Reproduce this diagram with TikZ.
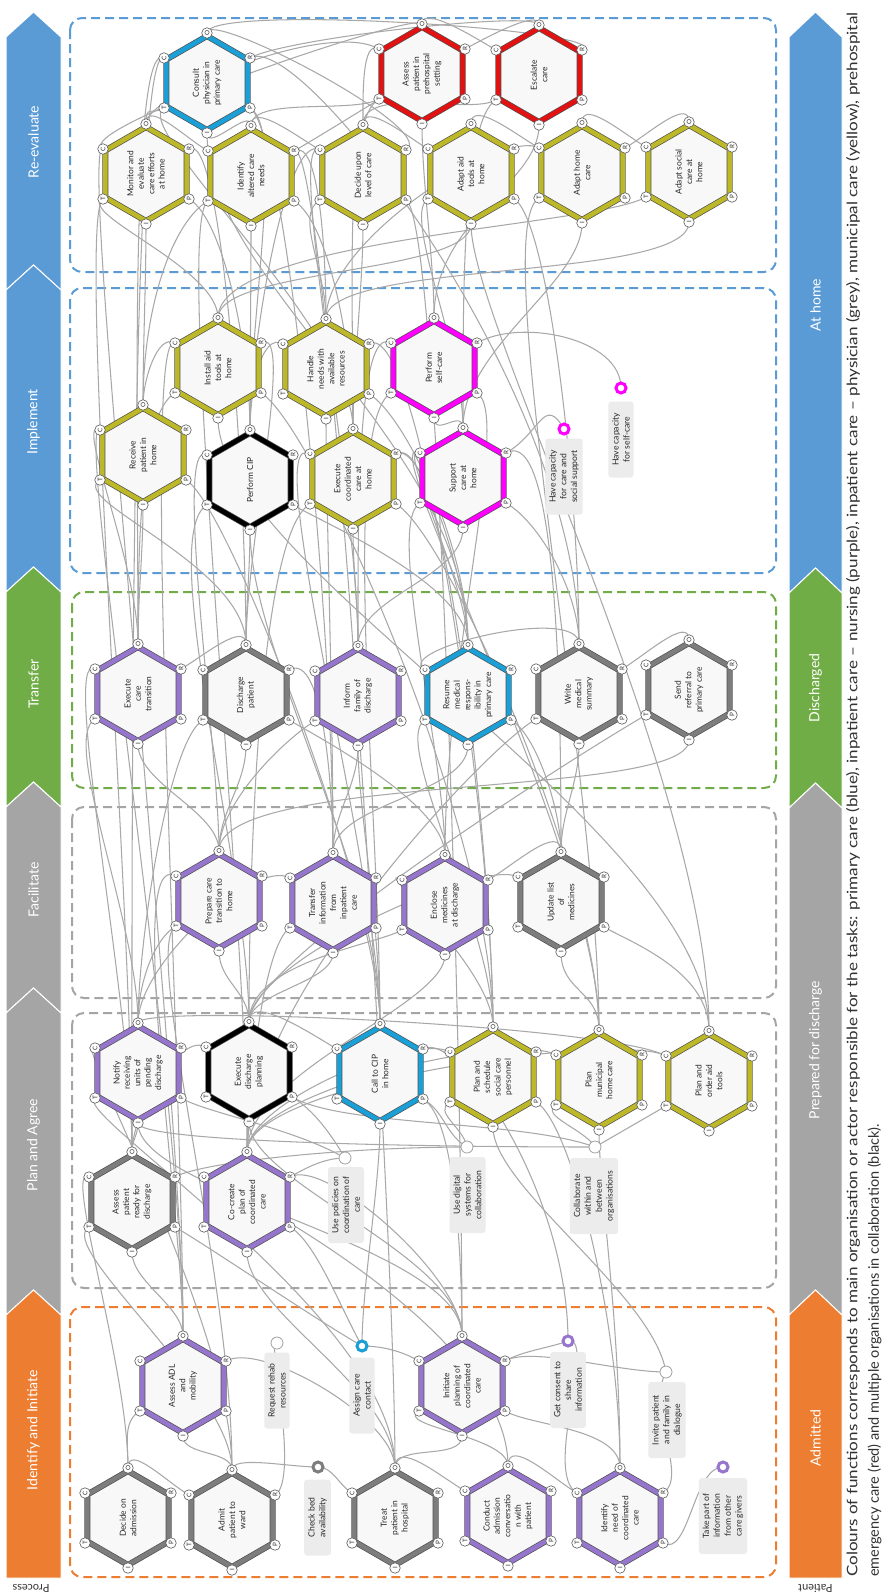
\documentclass[tikz,border=0pt]{standalone}
\usepackage{graphicx}
\usepackage{fontspec}
\setmainfont{Lato}
\definecolor{hblue}{RGB}{26,160,214}
\definecolor{hpur}{RGB}{150,118,205}
\definecolor{hgry}{RGB}{125,125,125}
\definecolor{hyel}{RGB}{188,184,40}
\definecolor{hred}{RGB}{226,18,18}
\definecolor{hmag}{RGB}{255,0,255}
\definecolor{hblk}{RGB}{0,0,0}
\definecolor{hexedge}{RGB}{80,80,80}
\definecolor{hexbg}{RGB}{248,248,248}
\definecolor{bblue}{RGB}{91,155,213}
\definecolor{bgreen}{RGB}{112,173,71}
\definecolor{bgrey}{RGB}{165,165,165}
\definecolor{borange}{RGB}{237,125,49}
\definecolor{conncol}{RGB}{168,168,168}
\definecolor{txtdark}{RGB}{40,40,40}
\definecolor{labbg}{RGB}{236,236,236}
\definecolor{aspedge}{RGB}{90,90,90}
\definecolor{opengrey}{RGB}{160,160,160}
\definecolor{capcol}{RGB}{50,50,50}
\pgfdeclarelayer{back}
\pgfdeclarelayer{lines}
\pgfsetlayers{back,lines,main}
\tikzset{
  conn/.style={draw=conncol, line width=1.05pt},
  fntext/.style={rotate=90, align=center, inner sep=0pt, font=\fontsize{8.4}{10.4}\selectfont, text=txtdark},
  asp/.style={circle, draw=aspedge, fill=white, line width=0.6pt, inner sep=0pt, minimum size=10.5pt, font=\fontsize{6.3}{7}\selectfont, rotate=90, text=txtdark},
  labbox/.style={rotate=90, fill=labbg, rounded corners=3pt, align=center, font=\fontsize{8.6}{10.8}\selectfont, text=txtdark, inner xsep=3pt, inner ysep=4pt, minimum width=76pt},
  ringc/.style={circle, draw=#1, line width=3pt, fill=white, minimum size=10pt, inner sep=0pt},
  openc/.style={circle, draw=opengrey, line width=0.8pt, fill=white, minimum size=12pt, inner sep=0pt},
  phasebox/.style={draw=#1, line width=2pt, dash pattern=on 9pt off 5pt, rounded corners=12pt},
  bandtxt/.style={rotate=90, text=white, font=\fontsize{14}{16}\selectfont, inner sep=0pt},
}
\newcommand\fnhex[5]{%
  \draw[line width=6pt, draw=hexedge, fill=hexbg, line join=miter]
    ({#2},{#3-47}) -- ({#2+40.7},{#3-23.5}) -- ({#2+40.7},{#3+23.5}) -- ({#2},{#3+47}) -- ({#2-40.7},{#3+23.5}) -- ({#2-40.7},{#3-23.5}) -- cycle;
  \draw[line width=4.6pt, draw=#4, line join=miter]
    ({#2},{#3-47}) -- ({#2+40.7},{#3-23.5}) -- ({#2+40.7},{#3+23.5}) -- ({#2},{#3+47}) -- ({#2-40.7},{#3+23.5}) -- ({#2-40.7},{#3-23.5}) -- cycle;
  \node[fntext] (#1) at (#2,#3) {#5};
  \node[asp] (#1-O) at ({#2},{#3-50}) {O};
  \node[asp] (#1-R) at ({#2+43},{#3-25}) {R};
  \node[asp] (#1-P) at ({#2+43},{#3+25}) {P};
  \node[asp] (#1-I) at ({#2},{#3+50}) {I};
  \node[asp] (#1-T) at ({#2-43},{#3+25}) {T};
  \node[asp] (#1-C) at ({#2-43},{#3-25}) {C};
}
\newcommand\labnode[7]{%
  \node[labbox] (#1) at (#2,#3) {#7};
  \node[#6] (#1-c) at (#4,#5) {};
}
\newcommand\bandshape[7]{%
  \fill[#7, draw=white, line width=1pt] (#1,#4) -- ({(#1+#2)/2},#3) -- (#2,#4) -- (#2,#5) -- ({(#1+#2)/2},#6) -- (#1,#5) -- cycle;}
\def\angO{90}\def\angR{30}\def\angP{-30}\def\angI{-90}\def\angT{210}\def\angC{150}
\newcommand\cnx[6]{\edef\cnout{\csname ang#2\endcsname}\edef\cnin{\csname ang#4\endcsname}%
  \draw[conn] (#1-#2.center) .. controls +(\cnout:#5pt) and +(\cnin:#6pt) .. (#3-#4.center);}
\newcommand\clx[6]{\edef\cnin{\csname ang#4\endcsname}%
  \draw[conn] (#1-c.center) .. controls +(#2:#5pt) and +(\cnin:#6pt) .. (#3-#4.center);}
\begin{document}
\begin{tikzpicture}[x=1pt,y=-1pt]
\useasboundingbox (0,0) rectangle (887,1596);
\begin{pgfonlayer}{back}
\fill[white] (0,0) rectangle (887,1596);
% process bands
\bandshape{6}{61}{12}{37}{290}{265}{bblue}
\bandshape{6}{61}{265}{290}{592}{567}{bblue}
\bandshape{6}{61}{567}{592}{807}{782}{bgreen}
\bandshape{6}{61}{782}{807}{1013}{988}{bgrey}
\bandshape{6}{61}{988}{1013}{1315}{1290}{bgrey}
\bandshape{6}{61}{1290}{1315}{1578}{1578}{borange}
% patient bands
\bandshape{789}{842}{12}{37}{593}{568}{bblue}
\bandshape{789}{842}{568}{593}{808}{783}{bgreen}
\bandshape{789}{842}{783}{808}{1315}{1290}{bgrey}
\bandshape{789}{842}{1290}{1315}{1578}{1578}{borange}
% phase boxes
\draw[phasebox=bblue] (70,18) rectangle (776,272);
\draw[phasebox=bblue] (70,288) rectangle (776,573);
\draw[phasebox=bgreen] (72,592) rectangle (776,788);
\draw[phasebox=bgrey] (72,807) rectangle (776,998);
\draw[phasebox=bgrey] (72,1013) rectangle (776,1288);
\draw[phasebox=borange] (70,1307) rectangle (776,1577);
\end{pgfonlayer}
% band texts
\node[bandtxt] (b1) at (33.5,142) {Re-evaluate};
\node[bandtxt] (b2) at (33.5,422) {Implement};
\node[bandtxt] (b3) at (33.5,684) {Transfer};
\node[bandtxt] (b4) at (33.5,890) {Facilitate};
\node[bandtxt] (b5) at (33.5,1145) {Plan and Agree};
\node[bandtxt] (b6) at (33.5,1430) {Identify and Initiate};
\node[bandtxt] (p1) at (815.5,305) {At home};
\node[bandtxt] (p2) at (815.5,688) {Discharged};
\node[bandtxt] (p3) at (815.5,1050) {Prepared for discharge};
\node[bandtxt] (p4) at (815.5,1438) {Admitted};
\node[rotate=180, font=\fontsize{11}{12}\selectfont, text=capcol, inner sep=0pt] (proc) at (31,1588) {Process};
\node[rotate=180, font=\fontsize{11}{12}\selectfont, text=capcol, inner sep=0pt] (pat) at (815.5,1588) {Patient};
\node[rotate=90, anchor=north west, inner sep=0pt, align=left, font=\fontsize{14.5}{21.5}\selectfont, text=capcol] (cap) at (846,1577)
  {\resizebox{1564pt}{\height}{Colours of functions corresponds to main organisation or actor responsible for the tasks: primary care (blue), inpatient care – nursing (purple), inpatient care – physician (grey), municipal care (yellow), prehospital}\\emergency care (red) and multiple organisations in collaboration (black).};
% functions
\fnhex{cons}{207}{83}{hblue}{Consult\\physician in\\primary care}
\fnhex{mon}{146}{174}{hyel}{Monitor and\\evaluate\\care efforts\\at home}
\fnhex{iac}{251}{176}{hyel}{Identify\\altered care\\needs}
\fnhex{dul}{363}{175}{hyel}{Decide upon\\level of care}
\fnhex{apps}{422}{74}{hred}{Assess\\patient in\\prehospital\\setting}
\fnhex{esc}{539}{75}{hred}{Escalate\\care}
\fnhex{aat}{471}{174}{hyel}{Adapt aid\\tools at\\home}
\fnhex{ahc}{582}{173}{hyel}{Adapt home\\care}
\fnhex{asc}{689}{172}{hyel}{Adapt social\\care at\\home}
\fnhex{iat}{218}{368}{hyel}{Install aid\\tools at\\home}
\fnhex{hna}{326}{369}{hyel}{Handle\\needs with\\available\\resources}
\fnhex{psc}{434}{368}{hmag}{Perform\\self-care}
\fnhex{rph}{143}{455}{hyel}{Receive\\patient in\\home}
\fnhex{pcip}{250}{480}{hblk}{Perform CIP}
\fnhex{ecc}{353}{479}{hyel}{Execute\\coordinated\\care at\\home}
\fnhex{sch}{463}{478}{hmag}{Support\\care at\\home}
\fnhex{ect}{138}{694}{hpur}{Execute\\care\\transition}
\fnhex{dp}{246}{695}{hgry}{Discharge\\patient}
\fnhex{ifd}{358}{696}{hpur}{Inform\\family of\\discharge}
\fnhex{rmr}{468}{695}{hblue}{Resume\\medical\\respons-\\ibility in\\primary care}
\fnhex{wms}{579}{694}{hgry}{Write\\medical\\summary}
\fnhex{srp}{689}{690}{hgry}{Send\\referral to\\primary care}
\fnhex{pct}{219}{901}{hpur}{Prepare care\\transition to\\home}
\fnhex{tii}{333}{903}{hpur}{Transfer\\information\\from\\inpatient\\care}
\fnhex{emd}{445}{905}{hpur}{Enclose\\medicines\\at discharge}
\fnhex{ulm}{561}{902}{hgry}{Update list\\of\\medicines}
\fnhex{nru}{138}{1073}{hpur}{Notify\\receiving\\units of\\pending\\discharge}
\fnhex{edp}{249}{1072}{hblk}{Execute\\discharge\\planning}
\fnhex{cip}{380}{1074}{hblue}{Call to CIP\\in home}
\fnhex{pss}{493}{1077}{hyel}{Plan and\\schedule\\social care\\personnel}
\fnhex{pmh}{599}{1080}{hyel}{Plan\\municipal\\home care}
\fnhex{poa}{709}{1081}{hyel}{Plan and\\order aid\\tools}
\fnhex{apr}{132}{1202}{hgry}{Assess\\patient\\ready for\\discharge}
\fnhex{ccp}{247}{1202}{hpur}{Co-create\\plan of\\coordinated\\care}
\fnhex{ada}{183}{1386}{hpur}{Assess ADL\\and\\mobility}
\fnhex{doa}{128}{1518}{hgry}{Decide on\\admission}
\fnhex{apw}{232}{1520}{hgry}{Admit\\patient to\\ward}
\fnhex{tph}{395}{1518}{hgry}{Treat\\patient in\\hospital}
\fnhex{ipc}{462}{1386}{hpur}{Initiate\\planning of\\coordinated\\care}
\fnhex{cac}{508}{1516}{hpur}{Conduct\\admission\\conversatio\\n with\\patient}
\fnhex{inc}{620}{1518}{hpur}{Identify\\need of\\coordinated\\care}
% labels
\labnode{hcs}{564}{476.5}{564}{429}{ringc=hmag}{Have capacity\\for care and\\social support}
\labnode{hsc}{621}{439.5}{621}{388}{ringc=hmag}{Have capacity\\for self-care}
\labnode{upc}{346}{1205}{345}{1158}{openc}{Use policies on\\coordination of\\care}
\labnode{uds}{467.5}{1195}{467}{1147}{openc}{Use digital\\systems for\\collaboration}
\labnode{cwb}{594}{1196}{595}{1147}{openc}{Collaborate\\within and\\between\\organisations}
\labnode{rrr}{277}{1390.5}{277}{1343}{openc}{Request rehab\\resources}
\labnode{acc}{362}{1395.5}{362}{1346}{ringc=hblue}{Assign care\\contact}
\labnode{cba}{317.5}{1517.5}{318}{1467}{ringc=hgry}{Check bed\\availability}
\labnode{gcs}{568}{1390}{568}{1341}{ringc=hpur}{Get consent to\\share\\information}
\labnode{ipf}{667}{1420}{666}{1372}{openc}{Invite patient\\and family in\\dialogue}
\labnode{tpi}{723}{1516}{723}{1467}{ringc=hpur}{Take part of\\information\\from other\\care givers}
% connectors
\begin{pgfonlayer}{lines}
\cnx{doa}{O}{apw}{C}{25}{25}
\cnx{apw}{O}{ada}{I}{20}{20}
\cnx{doa}{O}{ada}{T}{25}{20}
\cnx{tph}{O}{ipc}{I}{25}{25}
\cnx{tph}{O}{cac}{C}{30}{25}
\cnx{cac}{O}{inc}{C}{30}{25}
\cnx{inc}{O}{ipc}{P}{40}{30}
\cnx{cac}{O}{ipc}{T}{30}{30}
\cnx{tph}{O}{ccp}{I}{80}{60}
\cnx{apw}{O}{apr}{T}{80}{40}
\cnx{ada}{O}{apr}{I}{30}{30}
\cnx{ada}{O}{pct}{C}{120}{60}
\cnx{ada}{O}{mon}{C}{250}{30}
\cnx{ipc}{O}{ccp}{R}{60}{40}
\cnx{ipc}{O}{edp}{I}{80}{60}
\cnx{ipc}{O}{nru}{I}{90}{70}
\cnx{tph}{O}{ada}{R}{50}{40}
\cnx{ccp}{O}{edp}{I}{12}{12}
\cnx{apr}{O}{nru}{I}{12}{12}
\cnx{apr}{O}{edp}{C}{40}{30}
\cnx{ccp}{O}{pss}{C}{50}{40}
\cnx{ccp}{O}{pmh}{C}{60}{50}
\cnx{ccp}{O}{poa}{C}{70}{50}
\cnx{edp}{O}{pct}{I}{30}{30}
\cnx{edp}{O}{cip}{C}{30}{25}
\cnx{nru}{O}{pct}{T}{40}{25}
\cnx{nru}{O}{ect}{T}{100}{40}
\cnx{cip}{O}{pcip}{I}{150}{120}
\cnx{cip}{O}{ecc}{C}{150}{60}
\cnx{pss}{O}{ecc}{R}{150}{60}
\cnx{pmh}{O}{ecc}{P}{150}{60}
\cnx{poa}{O}{iat}{I}{200}{150}
\cnx{pss}{O}{hna}{R}{200}{60}
\cnx{pmh}{O}{sch}{C}{180}{60}
\cnx{edp}{O}{tii}{I}{30}{30}
\cnx{ccp}{O}{emd}{I}{80}{50}
\cnx{edp}{O}{ulm}{C}{60}{40}
\cnx{nru}{O}{tii}{C}{60}{40}
\cnx{apr}{O}{mon}{T}{250}{30}
\cnx{apr}{O}{ect}{C}{150}{40}
\cnx{pct}{O}{ect}{I}{40}{40}
\cnx{pct}{O}{dp}{I}{40}{40}
\cnx{pct}{O}{ifd}{T}{50}{30}
\cnx{tii}{O}{rmr}{I}{50}{50}
\cnx{tii}{O}{dp}{R}{60}{40}
\cnx{emd}{O}{dp}{P}{50}{40}
\cnx{ulm}{O}{wms}{I}{40}{40}
\cnx{ulm}{O}{emd}{R}{30}{30}
\cnx{pct}{O}{srp}{I}{80}{60}
\cnx{tii}{O}{ifd}{I}{40}{40}
\cnx{ect}{O}{rph}{I}{50}{50}
\cnx{dp}{O}{ect}{R}{25}{25}
\cnx{dp}{O}{rph}{T}{80}{40}
\cnx{dp}{O}{pcip}{I}{40}{40}
\cnx{ifd}{O}{sch}{I}{50}{50}
\cnx{ifd}{O}{ecc}{I}{40}{40}
\cnx{rmr}{O}{cons}{I}{200}{150}
\cnx{rmr}{O}{pcip}{P}{60}{40}
\cnx{wms}{O}{rmr}{C}{40}{40}
\cnx{srp}{O}{wms}{R}{25}{25}
\cnx{wms}{O}{sch}{P}{50}{40}
\cnx{ect}{O}{iat}{T}{100}{40}
\cnx{rph}{O}{mon}{I}{60}{60}
\cnx{rph}{O}{iat}{C}{25}{20}
\cnx{pcip}{O}{iac}{I}{60}{60}
\cnx{pcip}{O}{mon}{P}{80}{40}
\cnx{pcip}{O}{hna}{C}{40}{25}
\cnx{ecc}{O}{dul}{I}{60}{60}
\cnx{ecc}{O}{iac}{P}{80}{40}
\cnx{iat}{O}{aat}{I}{50}{50}
\cnx{hna}{O}{dul}{T}{50}{30}
\cnx{psc}{O}{apps}{I}{60}{60}
\cnx{sch}{O}{ahc}{I}{80}{60}
\cnx{sch}{O}{psc}{I}{20}{20}
\cnx{hna}{O}{asc}{I}{60}{60}
\cnx{ecc}{O}{cons}{T}{100}{40}
\cnx{iat}{O}{mon}{T}{50}{30}
\cnx{sch}{O}{aat}{T}{80}{30}
\cnx{mon}{O}{cons}{T}{20}{15}
\cnx{iac}{O}{dul}{C}{25}{25}
\cnx{iac}{O}{cons}{I}{20}{20}
\cnx{dul}{O}{apps}{C}{30}{20}
\cnx{dul}{O}{esc}{T}{40}{30}
\cnx{dul}{O}{aat}{C}{25}{20}
\cnx{apps}{O}{esc}{C}{20}{20}
\cnx{esc}{O}{cons}{R}{15}{40}
\cnx{cons}{O}{dul}{R}{25}{40}
\cnx{aat}{O}{ahc}{C}{25}{25}
\cnx{asc}{O}{ahc}{R}{25}{25}
\cnx{iac}{O}{apps}{T}{30}{30}
\cnx{mon}{O}{iac}{C}{25}{25}
\cnx{ahc}{O}{asc}{C}{25}{25}
\cnx{edp}{O}{pcip}{T}{150}{60}
\cnx{edp}{O}{ecc}{T}{150}{60}
\cnx{ccp}{O}{iac}{T}{250}{40}
\cnx{cip}{O}{rph}{P}{120}{50}
\cnx{pct}{O}{pcip}{C}{100}{40}
\cnx{tii}{O}{hna}{I}{150}{80}
\cnx{emd}{O}{sch}{T}{100}{40}
\cnx{ipc}{O}{dul}{P}{250}{40}
\cnx{tph}{O}{iac}{R}{250}{40}
\cnx{ada}{O}{rph}{C}{250}{30}
\cnx{nru}{O}{dp}{T}{80}{40}
\cnx{ulm}{O}{rmr}{P}{40}{30}
\cnx{dp}{O}{mon}{R}{150}{40}
\cnx{ifd}{O}{dul}{C}{150}{40}
\cnx{ect}{O}{cons}{C}{200}{40}
\cnx{ccp}{O}{tii}{T}{60}{30}
\cnx{edp}{O}{emd}{T}{60}{30}
\cnx{pss}{O}{emd}{C}{60}{40}
\cnx{pmh}{O}{ulm}{I}{40}{40}
\cnx{poa}{O}{ulm}{P}{60}{30}
\cnx{cip}{O}{ifd}{I}{100}{60}
\cnx{pss}{O}{rmr}{T}{100}{40}
\cnx{wms}{O}{aat}{P}{150}{40}
\cnx{rmr}{O}{hna}{P}{100}{40}
\cnx{apr}{O}{cons}{C}{250}{40}
\cnx{ada}{O}{iat}{C}{250}{40}
\cnx{apw}{O}{pct}{T}{200}{40}
\cnx{nru}{O}{poa}{C}{20}{60}
\cnx{edp}{O}{srp}{T}{60}{80}
\cnx{ccp}{O}{wms}{T}{150}{60}
\cnx{cip}{O}{psc}{T}{200}{60}
\cnx{pss}{O}{iat}{P}{200}{60}
\cnx{pmh}{O}{ahc}{T}{250}{60}
\cnx{poa}{O}{aat}{I}{250}{100}
\cnx{tii}{O}{cons}{P}{250}{40}
\cnx{emd}{O}{psc}{P}{200}{40}
\cnx{ulm}{O}{sch}{R}{150}{60}
\cnx{dp}{O}{iat}{R}{100}{40}
\cnx{ifd}{O}{psc}{C}{120}{40}
\cnx{rmr}{O}{ecc}{R}{60}{30}
\cnx{rmr}{O}{sch}{C}{60}{30}
\cnx{wms}{O}{cons}{R}{250}{60}
\cnx{ect}{O}{rph}{C}{80}{30}
\cnx{pcip}{O}{dul}{C}{80}{40}
\cnx{hna}{O}{iac}{R}{60}{30}
\cnx{hna}{O}{ahc}{C}{80}{40}
\cnx{psc}{O}{esc}{I}{100}{60}
\cnx{sch}{O}{esc}{T}{120}{40}
\cnx{ecc}{O}{apps}{T}{150}{40}
\cnx{pcip}{O}{cons}{P}{120}{40}
\cnx{rph}{O}{iac}{T}{100}{40}
\cnx{iat}{O}{asc}{T}{80}{60}
\cnx{mon}{O}{apps}{C}{30}{60}
\cnx{cons}{O}{esc}{R}{30}{40}
\cnx{esc}{O}{iac}{R}{30}{80}
\cnx{apps}{O}{mon}{C}{15}{40}
\cnx{tph}{O}{nru}{T}{150}{30}
\cnx{apw}{O}{nru}{C}{150}{30}
\cnx{doa}{O}{apr}{C}{100}{30}
\cnx{ipc}{O}{cip}{P}{60}{40}
\cnx{inc}{O}{pss}{P}{150}{40}
\cnx{cac}{O}{ccp}{C}{150}{40}
\cnx{inc}{O}{pmh}{I}{150}{60}
\clx{cba}{180}{apw}{O}{30}{15}
\clx{cba}{0}{tph}{C}{15}{15}
\clx{rrr}{120}{apw}{R}{25}{30}
\clx{acc}{0}{ipc}{C}{20}{20}
\clx{acc}{120}{ccp}{P}{40}{30}
\clx{acc}{90}{cip}{I}{60}{60}
\clx{acc}{150}{apr}{P}{60}{40}
\clx{gcs}{200}{ipc}{R}{20}{20}
\clx{gcs}{10}{inc}{C}{30}{40}
\clx{gcs}{90}{cip}{R}{150}{40}
\clx{ipf}{-120}{inc}{R}{40}{30}
\clx{ipf}{180}{ipc}{R}{50}{30}
\clx{tpi}{180}{inc}{P}{30}{30}
\clx{ipf}{100}{pss}{I}{80}{60}
\clx{upc}{180}{ccp}{R}{20}{20}
\clx{upc}{120}{edp}{P}{25}{25}
\clx{upc}{150}{nru}{P}{60}{30}
\clx{uds}{150}{cip}{P}{25}{25}
\clx{uds}{100}{pss}{T}{20}{20}
\clx{uds}{180}{apr}{R}{120}{30}
\clx{cwb}{120}{pmh}{T}{20}{20}
\clx{cwb}{30}{poa}{T}{25}{25}
\clx{cwb}{160}{edp}{P}{80}{60}
\clx{cwb}{180}{nru}{I}{150}{20}
\clx{hcs}{120}{sch}{R}{40}{40}
\clx{hsc}{90}{psc}{R}{50}{50}
\end{pgfonlayer}
\end{tikzpicture}
\end{document}
